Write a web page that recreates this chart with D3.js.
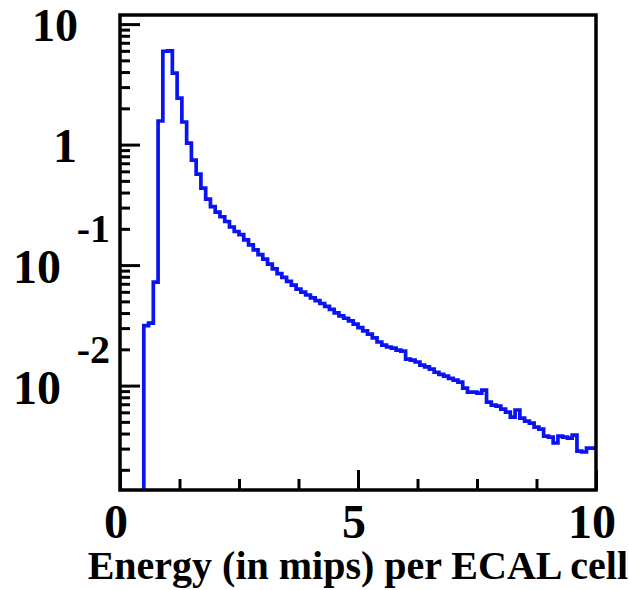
<!DOCTYPE html>
<html>
<head>
<meta charset="utf-8">
<script src="https://cdn.jsdelivr.net/npm/d3@7"></script>
<style>
  body { margin: 0; background: #fff; }
  svg text { font-family: "Liberation Serif", "Times New Roman", serif; font-weight: bold; fill: #000; }
</style>
</head>
<body>
<svg id="chart"></svg>
<script>
// histogram: 100 bins of 0.1 mip from 0 to 10
const binStart = 0;
const binWidth = 0.1;
const counts = [
  0, 0, 0, 0, 0, 0.0315, 0.033, 0.0723, 1.57, 5.95,
  6.0, 3.92, 2.43, 1.54, 1.03, 0.743, 0.569, 0.436, 0.353, 0.306,
  0.275, 0.252, 0.230, 0.207, 0.190, 0.179, 0.162, 0.147, 0.134, 0.122,
  0.112, 0.102, 0.093, 0.085, 0.079, 0.0734, 0.0682, 0.0633, 0.0597, 0.0565,
  0.0535, 0.0507, 0.048, 0.0454, 0.0429, 0.0402, 0.0379, 0.0362, 0.0345, 0.0324,
  0.0303, 0.0285, 0.0267, 0.0249, 0.0230, 0.0217, 0.0209, 0.0205, 0.0197, 0.0193,
  0.0166, 0.0163, 0.0157, 0.0148, 0.0143, 0.0137, 0.0129, 0.0124, 0.0120, 0.0115,
  0.0111, 0.0107, 0.00953, 0.00883, 0.00883, 0.00867, 0.00918, 0.00730, 0.00689, 0.00676,
  0.00638, 0.00603, 0.00548, 0.00627, 0.00537, 0.00507, 0.00489, 0.00453, 0.00436, 0.00381,
  0.00374, 0.00334, 0.00381, 0.00374, 0.00367, 0.00388, 0.00286, 0.00281, 0.00303, 0.00303
];

const xMajorTicks = [0, 5, 10];
const xMinorTicks = [1.25, 2.5, 3.75, 6.25, 7.5, 8.75];
const xTickLabels = ["0", "5", "10"];
const yMajorTicks = [10, 1, 0.1, 0.01];
const yExponents = ["1", "0", "-1", "-2"];
const xTitle = "Energy (in mips) per ECAL cell";

const width = 629, height = 590;
const margin = { top: 15, right: 33, bottom: 100, left: 120 };
const yMin = 0.00136, yMax = 11.9;

const svg = d3.select("#chart").attr("width", width).attr("height", height);

const x = d3.scaleLinear().domain([0, 10]).range([margin.left, width - margin.right]);
const y = d3.scaleLog().domain([yMin, yMax]).range([height - margin.bottom, margin.top]);

// minor log ticks: 2..9 of every decade inside the domain
const yMinorTicks = [];
[0.001, 0.01, 0.1, 1].forEach(dec => {
  for (let m = 2; m <= 9; m++) {
    const v = dec * m;
    if (v >= yMin && v <= yMax) yMinorTicks.push(v);
  }
});

svg.append("defs").append("clipPath").attr("id", "plot")
  .append("rect")
  .attr("x", x(0)).attr("y", y(yMax))
  .attr("width", x(10) - x(0)).attr("height", y(yMin) - y(yMax));

// histogram line
const pts = counts.map((c, i) => [binStart + i * binWidth, c]);
pts.push([10, counts[counts.length - 1]]);

const line = d3.line()
  .x(d => x(d[0]))
  .y(d => y(Math.max(d[1], yMin * 0.9)))
  .curve(d3.curveStepAfter);

svg.append("path")
  .datum(pts)
  .attr("clip-path", "url(#plot)")
  .attr("fill", "none")
  .attr("stroke", "#0a14f0")
  .attr("stroke-width", 3.7)
  .attr("stroke-linejoin", "miter")
  .attr("d", line);

// ticks (inside the frame, ROOT style)
const tickGroup = (axis) => svg.append("g")
  .call(axis)
  .call(g => g.select(".domain").remove())
  .call(g => g.selectAll(".tick line").attr("stroke", "#000").attr("stroke-width", 3))
  .call(g => g.selectAll(".tick text").remove());

tickGroup(d3.axisBottom(x).tickValues(xMajorTicks).tickSize(-20)).attr("transform", `translate(0,${y(yMin)})`);
tickGroup(d3.axisBottom(x).tickValues(xMinorTicks).tickSize(-11)).attr("transform", `translate(0,${y(yMin)})`);
tickGroup(d3.axisLeft(y).tickValues(yMajorTicks).tickSize(-20)).attr("transform", `translate(${x(0)},0)`);
tickGroup(d3.axisLeft(y).tickValues(yMinorTicks).tickSize(-10)).attr("transform", `translate(${x(0)},0)`);

// frame
svg.append("rect")
  .attr("x", x(0)).attr("y", y(yMax))
  .attr("width", x(10) - x(0)).attr("height", y(yMin) - y(yMax))
  .attr("fill", "none").attr("stroke", "#000").attr("stroke-width", 3.5);

// x tick labels
svg.append("g").selectAll("text")
  .data(xMajorTicks)
  .join("text")
  .attr("x", d => x(d) - 4)
  .attr("y", y(yMin) + 48)
  .attr("text-anchor", "middle")
  .attr("font-size", 48)
  .text((d, i) => xTickLabels[i]);

// y tick labels, ROOT style: exponent set above "10"
const yLab = svg.append("g");
yMajorTicks.forEach((v, i) => {
  const ty = y(v);
  const e = yExponents[i];
  if (e === "1") {
    yLab.append("text").attr("x", 78).attr("y", ty + 17).attr("text-anchor", "end")
      .attr("font-size", 46).text("10");
  } else if (e === "0") {
    yLab.append("text").attr("x", 77).attr("y", ty + 17).attr("text-anchor", "end")
      .attr("font-size", 48).text("1");
  } else {
    yLab.append("text").attr("x", 110).attr("y", ty - 23).attr("text-anchor", "end")
      .attr("font-size", 40).text(e);
    yLab.append("text").attr("x", 61).attr("y", ty + 18).attr("text-anchor", "end")
      .attr("font-size", 48).text("10");
  }
});

// x title
svg.append("text")
  .attr("x", 628)
  .attr("y", 579)
  .attr("text-anchor", "end")
  .attr("font-size", 40)
  .text(xTitle);
</script>
</body>
</html>
